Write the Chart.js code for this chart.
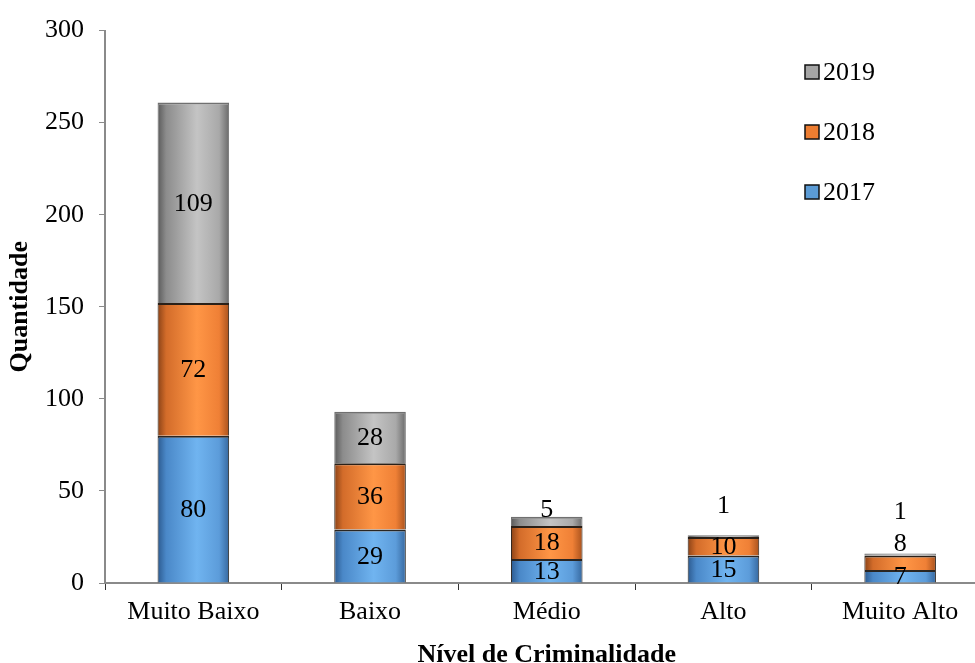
<!DOCTYPE html>
<html>
<head>
<meta charset="utf-8">
<script src="https://cdn.jsdelivr.net/npm/chart.js@4/dist/chart.umd.min.js"></script>
<style>
  html, body { margin: 0; padding: 0; background: #fff; overflow: hidden; width: 975px; height: 663px; }
  #wrap { position: absolute; left: 0; top: 0; width: 990px; height: 671px; }
</style>
</head>
<body>
<div id="wrap"><canvas id="chart" width="990" height="671"></canvas></div>
<script>
// Categories and yearly counts per criminality level
const categories = ['Muito Baixo', 'Baixo', 'Médio', 'Alto', 'Muito Alto'];
const years = ['2017', '2018', '2019'];
const values2017 = [80, 29, 13, 15, 7];
const values2018 = [72, 36, 18, 10, 8];
const values2019 = [109, 28, 5, 1, 1];
const yTicks = [0, 50, 100, 150, 200, 250, 300];

const SERIF = '"Liberation Serif", "Times New Roman", serif';
const FONT_SIZE = 26;

// Horizontal shading stops for each series (dark edges, lighter middle)
const shades = {
  blue:   ['#2c5a8f', '#4a88c8', '#70b4f0', '#5c9cda', '#36689f'],
  orange: ['#8a4217', '#d36c2a', '#ff9646', '#ef8036', '#a9521d'],
  gray:   ['#5a5a5a', '#8c8c8c', '#c4c4c4', '#a9a9a9', '#6a6a6a']
};
const flat = { blue: '#5b9bd5', orange: '#ed7d31', gray: '#a5a5a5' };
const BAR_PCT = 0.405;

function barFill(name) {
  return (ctx) => {
    const chart = ctx.chart;
    const xs = chart.scales && chart.scales.x;
    if (!xs || !chart.chartArea || ctx.type !== 'data' || !xs.ticks || !xs.ticks.length) return flat[name];
    const cx = xs.getPixelForValue(ctx.dataIndex);
    const half = (xs.width / xs.ticks.length) * BAR_PCT / 2;
    const g = chart.ctx.createLinearGradient(cx - half, 0, cx + half, 0);
    const s = shades[name];
    g.addColorStop(0, s[0]);
    g.addColorStop(0.12, s[1]);
    g.addColorStop(0.55, s[2]);
    g.addColorStop(0.86, s[3]);
    g.addColorStop(1, s[4]);
    return g;
  };
}

// Labels of thin segments are lifted above the stack (pixels above the stack top)
const liftedLabels = { '2:2': 8, '2:3': 30, '1:4': 10, '2:4': 42 };

const segmentLabels = {
  id: 'segmentLabels',
  afterDatasetsDraw(chart) {
    const c = chart.ctx;
    c.save();
    c.font = FONT_SIZE + 'px ' + SERIF;
    c.fillStyle = '#000';
    c.textAlign = 'center';
    c.textBaseline = 'middle';
    chart.data.datasets.forEach((ds, di) => {
      const meta = chart.getDatasetMeta(di);
      meta.data.forEach((bar, i) => {
        const key = di + ':' + i;
        let y;
        if (key in liftedLabels) {
          const topMeta = chart.getDatasetMeta(chart.data.datasets.length - 1);
          y = topMeta.data[i].y - liftedLabels[key];
        } else {
          y = (bar.y + bar.base) / 2;
        }
        c.fillText(String(ds.data[i]), bar.x, y + 1);
      });
    });
    c.restore();
  }
};

// Vertical legend placed inside the plot, newest year on top
const sideLegend = {
  id: 'sideLegend',
  afterDraw(chart) {
    const c = chart.ctx;
    const x = 805, y0 = 72, step = 60, box = 14;
    c.save();
    c.font = FONT_SIZE + 'px ' + SERIF;
    c.textBaseline = 'middle';
    c.textAlign = 'left';
    const order = chart.data.datasets.map((d, i) => i).reverse();
    order.forEach((di, k) => {
      const ds = chart.data.datasets[di];
      const y = y0 + k * step;
      c.fillStyle = ds.legendColor;
      c.fillRect(x, y - box / 2, box, box);
      c.lineWidth = 1.5;
      c.strokeStyle = '#111';
      c.strokeRect(x, y - box / 2, box, box);
      c.fillStyle = '#000';
      c.fillText(ds.label, x + box + 4, y + 1);
    });
    c.restore();
  }
};

function series(label, data, name, edge) {
  return {
    label,
    data,
    backgroundColor: barFill(name),
    legendColor: flat[name],
    borderColor: edge,
    borderWidth: { top: 2, left: 1, right: 1, bottom: 0 },
    borderSkipped: false,
    categoryPercentage: 1.0,
    barPercentage: BAR_PCT
  };
}

new Chart(document.getElementById('chart'), {
  type: 'bar',
  data: {
    labels: categories,
    datasets: [
      series(years[0], values2017, 'blue', '#2a2622'),
      series(years[1], values2018, 'orange', '#2a2018'),
      series(years[2], values2019, 'gray', '#707070')
    ]
  },
  options: {
    responsive: false,
    animation: false,
    events: [],
    layout: { padding: { top: 29, right: 1.5, left: 0, bottom: 0 } },
    plugins: { legend: { display: false }, tooltip: { enabled: false } },
    scales: {
      x: {
        stacked: true,
        afterFit: (s) => { s.height = 88; },
        border: { display: true, color: '#8a8a8a', width: 2 },
        grid: { display: true, drawOnChartArea: false, drawTicks: true, tickLength: 7, color: '#333', offset: true },
        ticks: { color: '#000', font: { family: SERIF, size: FONT_SIZE }, padding: 7, maxRotation: 0, autoSkip: false },
        title: {
          display: true,
          text: 'Nível de Criminalidade',
          color: '#000',
          font: { family: SERIF, size: FONT_SIZE, weight: 'bold' },
          padding: { top: 0, bottom: 0 }
        }
      },
      y: {
        stacked: true,
        min: 0,
        max: 300,
        afterFit: (s) => { s.width = 105; },
        afterBuildTicks: (s) => { s.ticks = yTicks.map(v => ({ value: v })); },
        border: { display: true, color: '#8a8a8a', width: 2 },
        grid: { display: true, drawOnChartArea: false, drawTicks: true, tickLength: 6, color: '#8a8a8a' },
        ticks: { color: '#000', font: { family: SERIF, size: FONT_SIZE }, padding: 15 },
        title: {
          display: true,
          text: 'Quantidade',
          color: '#000',
          font: { family: SERIF, size: FONT_SIZE, weight: 'bold' },
          padding: { top: 5, bottom: 0 }
        }
      }
    }
  },
  plugins: [segmentLabels, sideLegend]
});
</script>
</body>
</html>
